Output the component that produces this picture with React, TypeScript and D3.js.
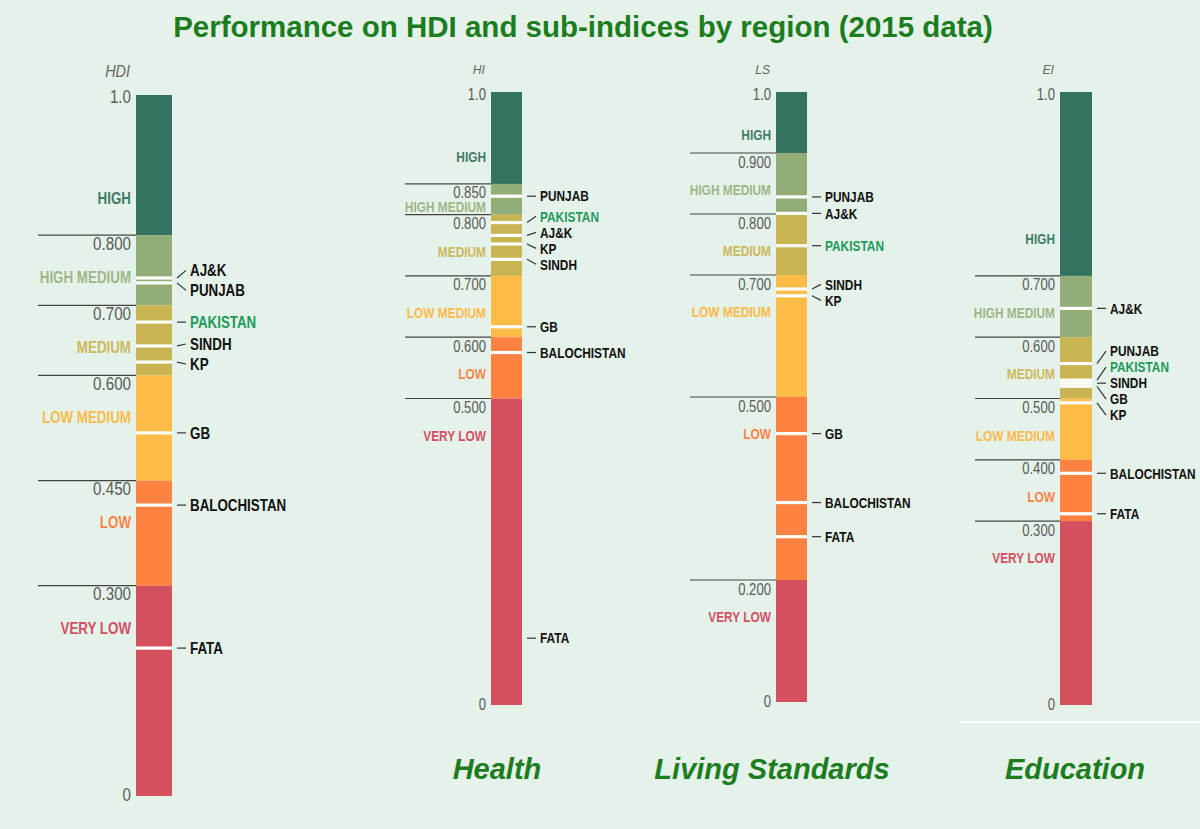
import React from "react";
import * as d3 from "d3";

// regions in the order used by every value array below
const regions = ["AJ&K", "PUNJAB", "PAKISTAN", "SINDH", "KP", "GB", "BALOCHISTAN", "FATA"];

const hdiValues = [0.739, 0.732, 0.676, 0.642, 0.619, 0.518, 0.415, 0.211];
const hiValues = [0.766, 0.83, 0.787, 0.727, 0.752, 0.617, 0.575, 0.109];
const lsValues = [0.801, 0.828, 0.748, 0.677, 0.666, 0.44, 0.327, 0.271];
const eiValues = [0.647, 0.557, 0.53, 0.525, 0.493, 0.52, 0.378, 0.312];

// regions with a label but no white mark on the bar
const hiUnmarked = ["FATA"];

const bandNames = ["HIGH", "HIGH MEDIUM", "MEDIUM", "LOW MEDIUM", "LOW", "VERY LOW"];

// lower bounds of the bands (HIGH down to LOW)
const hdiCuts = [0.8, 0.7, 0.6, 0.45, 0.3];
const hiCuts = [0.85, 0.8, 0.7, 0.6, 0.5];
const lsCuts = [0.9, 0.8, 0.7, 0.5, 0.2];
const eiCuts = [0.7, 0.6, 0.5, 0.4, 0.3];

const bandFill = ["#33735f", "#93ad78", "#c8b453", "#fdbb48", "#fd8140", "#d5505f"];
const bandText = ["#3f7c68", "#9db787", "#ccb85d", "#fbba4a", "#fb8447", "#d34f63"];

const SANS = "'Liberation Sans', Arial, Helvetica, sans-serif";
const GREEN = "#1c7d1f";
const SQUEEZE = 0.82; // Liberation Sans squeezed to look like a narrow face

const columns = [
  { name: "HDI", values: hdiValues, cuts: hdiCuts, hidden: [] as string[], x: 136, w: 36, top: 95, bottom: 796, left: 38, tick: 18.5, label: 16.3, spacing: 20, offset: 42 },
  { name: "HI", values: hiValues, cuts: hiCuts, hidden: hiUnmarked, x: 491, w: 31, top: 92, bottom: 705, left: 405, tick: 16, label: 14.5, spacing: 16, offset: 37 },
  { name: "LS", values: lsValues, cuts: lsCuts, hidden: [] as string[], x: 776, w: 31, top: 92, bottom: 702, left: 690, tick: 16, label: 14.5, spacing: 16, offset: 37 },
  { name: "EI", values: eiValues, cuts: eiCuts, hidden: [] as string[], x: 1060, w: 32, top: 92, bottom: 705, left: 975, tick: 16, label: 14.5, spacing: 16, offset: 37 },
];

const subtitles = ["Health", "Living Standards", "Education"];
const subtitleX = [497, 772, 1075];

// push labels apart so they keep a minimum spacing, clusters stay centred on their marks
function dodge(ys: number[], gap: number) {
  const clusters = ys.map((y) => ({ ys: [y], c: y }));
  let moved = true;
  while (moved) {
    moved = false;
    for (let i = 1; i < clusters.length; i++) {
      const a = clusters[i - 1];
      const b = clusters[i];
      const aEnd = a.c + ((a.ys.length - 1) / 2) * gap;
      const bStart = b.c - ((b.ys.length - 1) / 2) * gap;
      if (bStart - aEnd < gap) {
        const merged = a.ys.concat(b.ys);
        clusters.splice(i - 1, 2, { ys: merged, c: d3.mean(merged) as number });
        moved = true;
        break;
      }
    }
  }
  const out: number[] = [];
  clusters.forEach((cl) => {
    cl.ys.forEach((_, k) => out.push(cl.c + (k - (cl.ys.length - 1) / 2) * gap));
  });
  return out;
}

const Narrow = ({ x, y, children, anchor = "start", bold = false, size, fill, dy }: any) => (
  <text
    transform={`translate(${x},${y}) scale(${SQUEEZE},1)`}
    dy={dy}
    textAnchor={anchor}
    fontFamily={SANS}
    fontWeight={bold ? "bold" : "normal"}
    fontSize={size}
    fill={fill}
  >
    {children}
  </text>
);

const Column = ({ col }: { col: (typeof columns)[number] }) => {
  const y = d3.scaleLinear().domain([0, 1]).range([col.bottom, col.top]);
  const bounds = [1, ...col.cuts, 0];
  const bands = bandNames.map((name, i) => ({ name, hi: bounds[i], lo: bounds[i + 1], i }));
  const tickX = col.x - 5;
  const right = col.x + col.w;

  const marks = regions
    .map((r, i) => ({ r, v: col.values[i] }))
    .sort((a, b) => b.v - a.v);
  const labelYs = dodge(marks.map((m) => y(m.v)), col.spacing);

  return (
    <g>
      <text
        transform={`translate(${tickX - 1},${col.top - 18}) scale(0.9,1)`}
        textAnchor="end"
        fontFamily={SANS}
        fontStyle="italic"
        fontSize={col.tick - 2.5}
        fill="#666"
      >
        {col.name}
      </text>
      {bands.map((b) => (
        <rect key={b.name} x={col.x} y={y(b.hi)} width={col.w} height={y(b.lo) - y(b.hi)} fill={bandFill[b.i]} />
      ))}
      {col.cuts.map((c) => (
        <g key={c}>
          <line x1={col.left} x2={col.x} y1={y(c)} y2={y(c)} stroke="#444" strokeWidth={1.2} />
          <Narrow x={tickX} y={y(c) + 14.5} anchor="end" size={col.tick} fill="#5a5a5a">
            {d3.format(".3f")(c)}
          </Narrow>
        </g>
      ))}
      <Narrow x={tickX} y={y(1) + 8} anchor="end" size={col.tick} fill="#5a5a5a">1.0</Narrow>
      <Narrow x={tickX} y={y(0) + 5} anchor="end" size={col.tick} fill="#5a5a5a">0</Narrow>
      {bands.map((b) => {
        const h = y(b.lo) - y(b.hi);
        const ly = b.i === 0 ? y(b.lo) - Math.min(37, 0.3 * h) : y(b.hi) + Math.min(col.offset, 0.76 * h);
        return (
          <Narrow key={b.name} x={tickX} y={ly} dy="0.36em" anchor="end" bold size={col.label} fill={bandText[b.i]}>
            {b.name}
          </Narrow>
        );
      })}
      {marks.map((m, i) => {
        const gy = y(m.v);
        const ly = labelYs[i];
        return (
          <g key={m.r}>
            {!col.hidden.includes(m.r) && (
              <rect x={col.x} y={gy - 1.6} width={col.w} height={3.2} fill="#fff" />
            )}
            <line x1={right + 5} x2={right + 14} y1={gy} y2={ly} stroke="#333" strokeWidth={1.2} />
            <Narrow x={right + 18} y={ly} dy="0.36em" bold size={col.label} fill={m.r === "PAKISTAN" ? "#1e9a5c" : "#111"}>
              {m.r}
            </Narrow>
          </g>
        );
      })}
    </g>
  );
};

export default function App() {
  return (
    <svg width={1200} height={829} style={{ position: "absolute", left: 0, top: 0, display: "block" }}>
      <rect width={1200} height={829} fill="#e5f2e9" />
      <text x={583} y={37} textAnchor="middle" fontFamily={SANS} fontWeight="bold" fontSize={29.5} fill={GREEN}>
        Performance on HDI and sub-indices by region (2015 data)
      </text>
      {columns.map((c) => (
        <Column key={c.name} col={c} />
      ))}
      {subtitles.map((s, i) => (
        <text key={s} x={subtitleX[i]} y={779} textAnchor="middle" fontFamily={SANS} fontWeight="bold" fontStyle="italic" fontSize={29} fill={GREEN}>
          {s}
        </text>
      ))}
      <line x1={960} x2={1200} y1={722} y2={722} stroke="#fff" strokeWidth={1.5} />
    </svg>
  );
}
